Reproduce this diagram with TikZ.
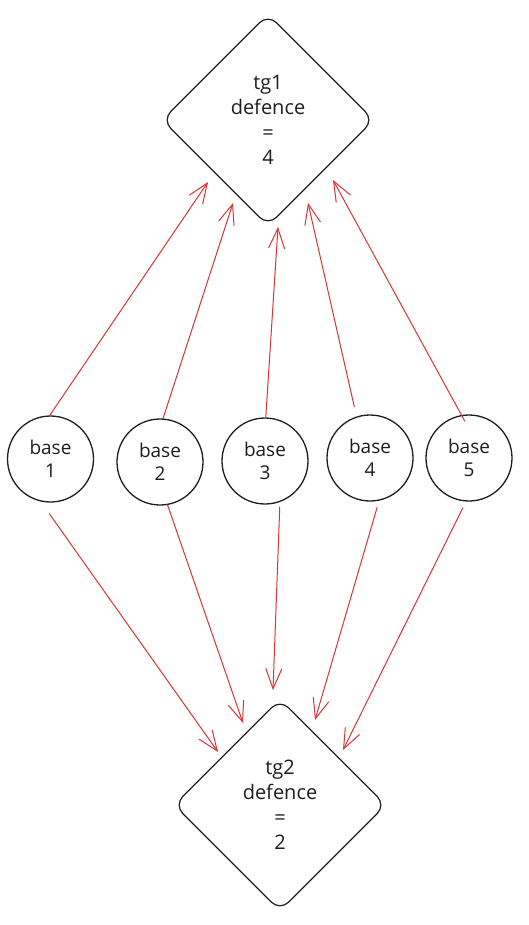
\documentclass[tikz,border=0pt]{standalone}
\usepackage{fontspec}
\setmainfont{Open Sans}
\usetikzlibrary{shapes.geometric,arrows.meta}
\definecolor{ink}{HTML}{1E1E1E}
\definecolor{exred}{HTML}{E03131}
\tikzset{
  target/.style={diamond,draw=ink,line width=1.2pt,rounded corners=12pt,
    minimum width=212pt,minimum height=212pt,inner sep=0pt,align=center,
    text=ink,font=\fontsize{20}{25}\selectfont},
  basenode/.style={circle,draw=ink,line width=1.3pt,minimum size=86pt,inner sep=0pt,
    align=center,text=ink,font=\fontsize{19}{23}\selectfont},
  arr/.style={draw=exred,line width=1pt,line cap=round,
    -{Straight Barb[length=20pt,width=16pt,line width=1pt]}}
}
\begin{document}
\begin{tikzpicture}[x=1pt,y=-1pt]
\useasboundingbox (0,0) rectangle (529,925);
% targets
\node[target] (t1) at (268,120) {tg1\\defence\\=\\4};
\node[target] (t2) at (280,805) {tg2\\defence\\=\\2};
% bases
\node[basenode] (b1) at (50.5,459) {base\\1};
\node[basenode] (b2) at (160,462) {base\\2};
\node[basenode] (b3) at (265,461) {base\\3};
\node[basenode] (b4) at (370,458) {base\\4};
\node[basenode] (b5) at (469,458) {base\\5};
% arrow tips near targets
\coordinate (u1) at (208,182);
\coordinate (u2) at (233,203);
\coordinate (u3) at (278,227);
\coordinate (u4) at (308,203);
\coordinate (u5) at (333,180);
\coordinate (d1) at (218,752);
\coordinate (d2) at (243,723);
\coordinate (d3) at (273,690);
\coordinate (d4) at (315,720);
\coordinate (d5) at (343,750);
% arrows to tg1
\draw[arr] (b1.91) -- (u1);
\draw[arr] (b2.86) -- (u2);
\draw[arr] (b3.89) -- (u3);
\draw[arr,shorten <=10pt] (b4.108) -- (u4);
\draw[arr,shorten <=-7pt] (b5.100) -- (u5);
% arrows to tg2
\draw[arr,shorten <=15pt] (b1.257) -- (d1);
\draw[arr] (b2.280) -- (d2);
\draw[arr,shorten <=5pt] (b3.290) -- (d3);
\draw[arr,shorten <=7pt] (b4.282) -- (d4);
\draw[arr,shorten <=7pt] (b5.266) -- (d5);
\end{tikzpicture}
\end{document}
